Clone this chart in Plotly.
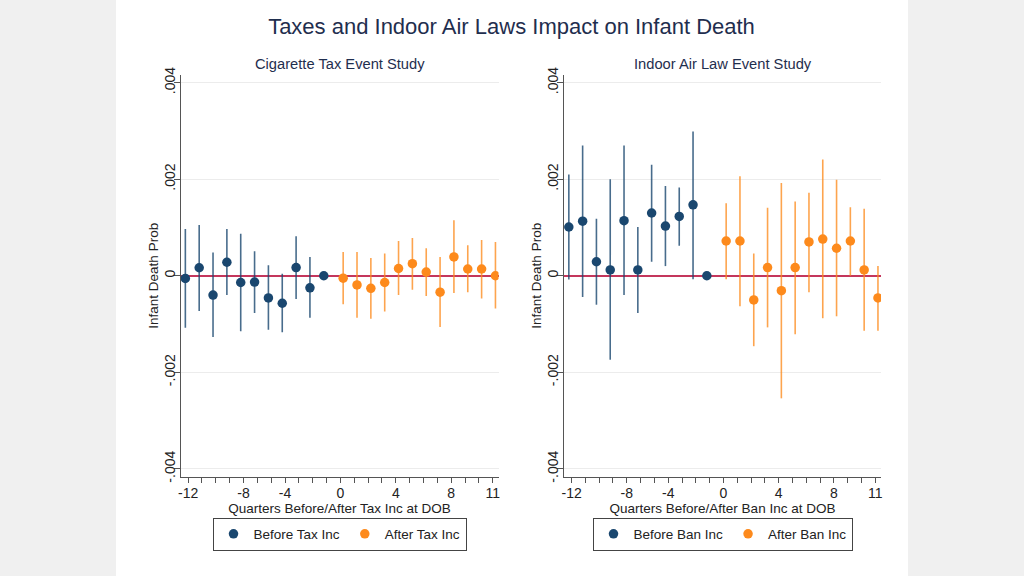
import numpy as np
import plotly.graph_objects as go

# ---------------- data (values in units of 0.001) ----------------
tick_slots = [0, 4, 7, 11, 15, 19, 22]
tick_text = ["-12", "-8", "-4", "0", "4", "8", "11"]
y_tickvals = [-0.004, -0.002, 0, 0.002, 0.004]
y_ticktext = ["-.004", "-.002", "0", ".002", ".004"]

# Cigarette tax event study
tax_before_est = [-0.055, 0.166, -0.40, 0.28, -0.14, -0.13, -0.46, -0.57, 0.17, -0.25, 0.0]
tax_before_hi = [0.97, 1.05, 0.48, 0.97, 0.87, 0.51, 0.22, 0.04, 0.82, 0.39, 0.0]
tax_before_lo = [-1.08, -0.73, -1.27, -0.40, -1.15, -0.77, -1.12, -1.17, -0.48, -0.87, 0.0]
tax_after_est = [-0.05, -0.19, -0.26, -0.14, 0.15, 0.25, 0.076, -0.34, 0.39, 0.14, 0.14, 0.0]
tax_after_hi = [0.49, 0.49, 0.37, 0.46, 0.72, 0.78, 0.57, 0.39, 1.15, 0.63, 0.74, 0.70]
tax_after_lo = [-0.59, -0.87, -0.89, -0.74, -0.40, -0.29, -0.42, -1.06, -0.36, -0.34, -0.47, -0.68]

# Indoor air law event study
ban_before_est = [1.01, 1.13, 0.29, 0.12, 1.14, 0.12, 1.30, 1.03, 1.23, 1.47, 0.0]
ban_before_hi = [2.10, 2.70, 1.18, 2.00, 2.70, 1.01, 2.30, 1.86, 1.83, 2.99, 0.0]
ban_before_lo = [-0.08, -0.44, -0.60, -1.74, -0.40, -0.77, 0.29, 0.20, 0.62, -0.07, 0.0]
ban_after_est = [0.72, 0.72, -0.50, 0.17, -0.31, 0.17, 0.70, 0.76, 0.57, 0.72, 0.12, -0.46]
ban_after_hi = [1.50, 2.06, 0.46, 1.41, 1.92, 1.54, 1.72, 2.41, 1.99, 1.42, 1.39, 0.20]
ban_after_lo = [-0.07, -0.63, -1.46, -1.07, -2.54, -1.21, -0.34, -0.88, -0.84, 0.0, -1.14, -1.14]

NAVY = "#1a476f"
NAVY_BAR = "rgba(26,71,111,0.8)"
ORANGE = "#fd8a1c"
ORANGE_BAR = "rgba(253,138,28,0.78)"
TXT = "#222222"
TITLE_C = "#1f2e4e"
FONT = "Liberation Sans, Arial, sans-serif"
W, H = 1024, 576

fig = go.Figure()


def add_series(est, hi, lo, start, offset, color, barcolor, name, xa, ya, legend):
    est = np.array(est) * 1e-3
    hi = np.array(hi) * 1e-3
    lo = np.array(lo) * 1e-3
    x = np.arange(start, start + len(est)) + offset
    fig.add_trace(go.Scatter(
        x=x, y=est, mode="markers", name=name,
        marker=dict(color=color, size=9.5),
        error_y=dict(type="data", symmetric=False, array=hi - est, arrayminus=est - lo,
                     color=barcolor, thickness=1.6, width=0),
        xaxis=xa, yaxis=ya, legend=legend, showlegend=True,
    ))


n_b = len(tax_before_est)
add_series(tax_before_est, tax_before_hi, tax_before_lo, 0, -0.2, NAVY, NAVY_BAR, "Before Tax Inc", "x", "y", "legend")
add_series(tax_after_est, tax_after_hi, tax_after_lo, n_b, 0.2, ORANGE, ORANGE_BAR, "After Tax Inc", "x", "y", "legend")
add_series(ban_before_est, ban_before_hi, ban_before_lo, 0, -0.2, NAVY, NAVY_BAR, "Before Ban Inc", "x2", "y2", "legend2")
add_series(ban_after_est, ban_after_hi, ban_after_lo, n_b, 0.2, ORANGE, ORANGE_BAR, "After Ban Inc", "x2", "y2", "legend2")

dom1 = [180.5 / W, 498.5 / W]
dom2 = [564.0 / W, 881.0 / W]
ydom = [1 - 477 / H, 1 - 74.5 / H]

xcommon = dict(
    range=[-0.55, 22.42], tickmode="array", tickvals=tick_slots, ticktext=tick_text,
    ticks="outside", ticklen=5, tickwidth=1, tickcolor="#555555",
    minor=dict(dtick=1, tick0=0, ticks="outside", ticklen=5, tickwidth=1, tickcolor="#555555", showgrid=False),
    showline=True, linecolor="#555555", linewidth=1, showgrid=False, zeroline=False,
    tickfont=dict(size=14, color=TXT, family=FONT), ticklabelstandoff=-2,
    fixedrange=True, automargin=False,
)
ycommon = dict(
    range=[-0.00417, 0.00417], tickmode="array", tickvals=y_tickvals, ticktext=y_ticktext,
    tickangle=-90, ticks="outside", ticklen=6, tickwidth=1, tickcolor="#555555",
    showline=True, linecolor="#555555", linewidth=1,
    showgrid=True, gridcolor="#ececec", gridwidth=1,
    zeroline=True, zerolinecolor="#c4365c", zerolinewidth=1.5,
    tickfont=dict(size=14, color=TXT, family=FONT), ticklabelstandoff=-7,
    title=dict(text="Infant Death Prob", font=dict(size=13.5, color=TXT, family=FONT), standoff=0),
    fixedrange=True, automargin=False,
)

legend_common = dict(orientation="h", xanchor="center", y=1 - 517.5 / H, yanchor="top",
                     bordercolor="#444444", borderwidth=1, bgcolor="white",
                     font=dict(size=13.5, color=TXT, family=FONT), itemwidth=30, tracegroupgap=0)

fig.update_layout(
    width=W, height=H, autosize=False,
    margin=dict(l=0, r=0, t=0, b=0, pad=0, autoexpand=False),
    paper_bgcolor="#f0f0f0", plot_bgcolor="white",
    font=dict(family=FONT, color=TXT),
    xaxis=dict(domain=dom1, anchor="y",
               title=dict(text="Quarters Before/After Tax Inc at DOB", font=dict(size=13.5, color=TXT, family=FONT), standoff=0),
               **xcommon),
    yaxis=dict(domain=ydom, anchor="x", **ycommon),
    xaxis2=dict(domain=dom2, anchor="y2",
                title=dict(text="Quarters Before/After Ban Inc at DOB", font=dict(size=13.5, color=TXT, family=FONT), standoff=0),
                **xcommon),
    yaxis2=dict(domain=ydom, anchor="x2", **ycommon),
    title=dict(text="Taxes and Indoor Air Laws Impact on Infant Death", x=511.5 / W, xanchor="center",
               y=1 - 26 / H, yanchor="middle", font=dict(size=22, color=TITLE_C, family=FONT)),
    legend=dict(x=(dom1[0] + dom1[1]) / 2, **legend_common),
    legend2=dict(x=(dom2[0] + dom2[1]) / 2, **legend_common),
    shapes=[dict(type="rect", xref="paper", yref="paper", x0=116 / W, x1=908 / W, y0=0, y1=1,
                 fillcolor="white", line=dict(width=0), layer="below")],
    annotations=[
        dict(text="Cigarette Tax Event Study", xref="paper", yref="paper", x=(dom1[0] + dom1[1]) / 2, y=1 - 64 / H,
             xanchor="center", yanchor="middle", showarrow=False, font=dict(size=14.7, color=TITLE_C, family=FONT)),
        dict(text="Indoor Air Law Event Study", xref="paper", yref="paper", x=(dom2[0] + dom2[1]) / 2, y=1 - 64 / H,
             xanchor="center", yanchor="middle", showarrow=False, font=dict(size=14.7, color=TITLE_C, family=FONT)),
    ],
)

fig.write_html(
    "out.html",
    config={"displayModeBar": False},
    post_script="document.body.style.margin='0';document.body.style.padding='0';document.body.style.overflow='hidden';",
)
